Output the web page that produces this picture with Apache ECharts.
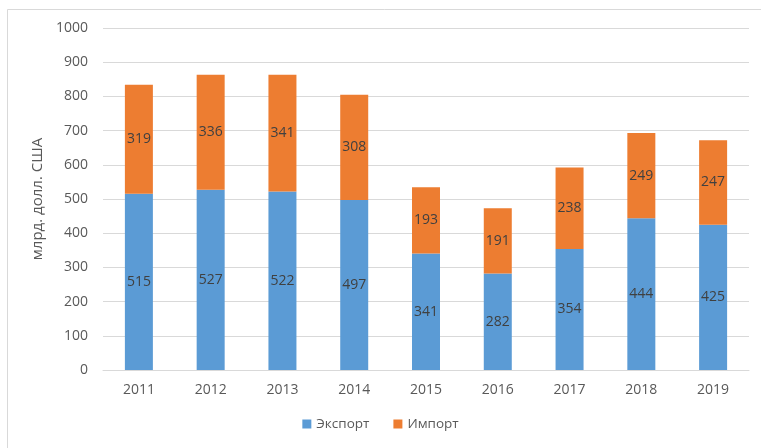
<!DOCTYPE html>
<html>
<head>
<meta charset="utf-8">
<script src="https://cdn.jsdelivr.net/npm/echarts@6/dist/echarts.min.js"></script>
<style>
  html, body { margin: 0; padding: 0; background: #fff; }
  #chart { width: 761px; height: 448px; }
</style>
</head>
<body>
<div id="chart"></div>
<script>
const years = ['2011', '2012', '2013', '2014', '2015', '2016', '2017', '2018', '2019']
const exportVals = [515, 527, 522, 497, 341, 282, 354, 444, 425]
const importVals = [319, 336, 341, 308, 193, 191, 238, 249, 247]

const chart = echarts.init(document.getElementById('chart'))
const font = 'Open Sans, Noto Sans, sans-serif'
const labelStyle = {
  show: true,
  position: 'inside',
  color: '#404040',
  fontSize: 14,
  fontFamily: font
}

const option = {
  backgroundColor: '#fff',
  animation: false,
  graphic: [
    { // рамка диаграммы (обрезана справа и снизу)
      type: 'rect',
      shape: { x: 7.5, y: 9.5, width: 800, height: 500 },
      style: { fill: 'none', stroke: '#d9d9d9', lineWidth: 1 }
    }
  ],
  grid: {
    left: 103,
    right: 12,
    top: 28,
    bottom: 78
  },
  legend: {
    bottom: 12,
    left: 'center',
    itemWidth: 9,
    itemHeight: 9,
    itemGap: 24,
    icon: 'rect',
    textStyle: { color: '#595959', fontSize: 13.5, fontFamily: font },
    data: ['Экспорт', 'Импорт']
  },
  xAxis: {
    type: 'category',
    data: years,
    axisLine: { lineStyle: { color: '#d9d9d9' } },
    axisTick: { show: false },
    axisLabel: { color: '#595959', fontSize: 14, fontFamily: font, margin: 13 }
  },
  yAxis: {
    type: 'value',
    min: 0,
    max: 1000,
    interval: 100,
    name: 'млрд. долл. США',
    nameLocation: 'middle',
    nameGap: 45,
    nameTextStyle: { color: '#595959', fontSize: 15, fontFamily: font },
    axisLine: { show: false },
    axisTick: { show: false },
    axisLabel: {
      color: '#595959',
      fontSize: 14,
      fontFamily: font,
      margin: 15,
      formatter: v => String(v)
    },
    splitLine: { lineStyle: { color: '#d9d9d9' } }
  },
  series: [
    {
      name: 'Экспорт',
      type: 'bar',
      stack: 'total',
      barWidth: 28,
      itemStyle: { color: '#5b9bd5' },
      label: labelStyle,
      data: exportVals
    },
    {
      name: 'Импорт',
      type: 'bar',
      stack: 'total',
      barWidth: 28,
      itemStyle: { color: '#ed7d31' },
      label: labelStyle,
      data: importVals
    }
  ]
}

chart.setOption(option)
</script>
</body>
</html>
